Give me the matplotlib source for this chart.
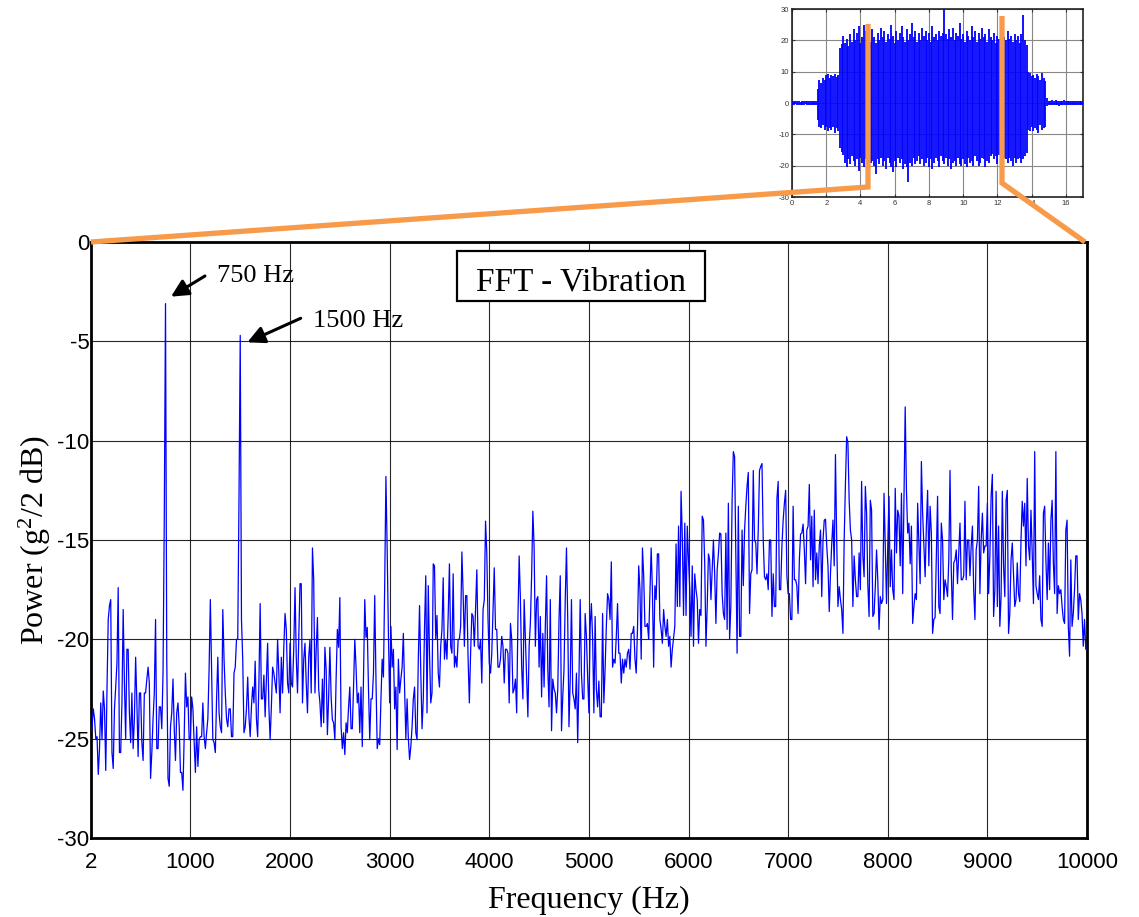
import numpy as np
import matplotlib
matplotlib.use("Agg")
import matplotlib.pyplot as plt
from matplotlib.lines import Line2D
from matplotlib.patches import Rectangle

plt.rcParams['axes.unicode_minus'] = False

# ---------------------------------------------------------------- data
# FFT power spectrum (dB). Resolution 12.5 Hz: `power_db_bins` holds the
# values on the 25 Hz grid (0, 25, ..., 10000 Hz) and `power_db_mid` the
# values halfway between (12.5, 37.5, ..., 9987.5 Hz).
bin_width_hz = 25
power_db_bins = [
    -24.7, -23.5, -25.0, -26.8, -23.2, -22.6, -26.6, -19.0, -18.0, -26.5,
    -22.4, -17.4, -25.7, -18.5, -25.0, -20.5, -25.2, -25.5, -20.9, -25.9,
    -22.7, -26.1, -22.7, -21.4, -27.0, -24.0, -19.0, -25.5, -23.4, -21.7,
    -3.1, -27.0, -24.4, -22.0, -26.1, -23.2, -26.7, -27.6, -21.7, -22.9,
    -25.05, -23.5, -26.7, -26.4, -24.9, -23.2, -25.5, -24.0, -18.0, -25.05,
    -25.7, -20.9, -24.4, -18.5, -22.7, -24.4, -23.5, -24.9, -21.4, -20.0,
    -4.7, -21.0, -24.4, -21.9, -24.9, -22.4, -21.1, -24.9, -18.2, -23.0,
    -23.9, -20.2, -25.05, -21.4, -22.2, -20.0, -23.7, -22.7, -18.7, -22.2,
    -20.2, -22.4, -17.4, -22.7, -17.2, -23.2, -20.2, -23.7, -20.0, -15.4,
    -22.7, -18.9, -23.2, -22.0, -20.4, -24.8, -20.4, -24.05, -25.05, -19.5,
    -17.9, -25.5, -25.8, -24.7, -22.4, -24.5, -20.0, -23.2, -24.7, -25.4,
    -18.0, -19.4, -25.05, -23.0, -17.8, -25.5, -25.3, -21.0, -17.3, -15.5,
    -23.2, -21.4, -23.5, -25.55, -22.7, -21.4, -22.5, -23.0, -26.05, -24.4,
    -22.4, -25.05, -18.3, -24.5, -19.4, -23.7, -20.7, -22.7, -16.3, -18.8,
    -22.4, -19.5, -21.0, -21.0, -16.2, -20.7, -21.4, -21.4, -20.0, -15.6,
    -20.35, -17.8, -23.2, -18.7, -20.35, -16.5, -20.5, -22.2, -18.0, -15.65,
    -21.2, -20.7, -16.4, -19.5, -21.4, -19.85, -22.2, -20.5, -23.2, -20.0,
    -22.5, -23.7, -15.8, -21.4, -18.0, -21.9, -20.35, -16.8, -15.35, -18.0,
    -21.4, -22.9, -22.4, -16.8, -23.4, -24.6, -22.5, -23.7, -19.0, -24.6,
    -21.5, -15.4, -24.4, -18.0, -23.0, -21.7, -22.0, -21.7, -23.0, -19.85,
    -23.7, -18.2, -23.7, -22.5, -22.1, -23.9, -23.2, -19.35, -18.0, -16.1,
    -21.0, -19.85, -20.7, -22.2, -21.7, -21.4, -20.5, -19.7, -19.35, -21.7,
    -16.3, -21.0, -16.8, -19.35, -20.0, -15.4, -21.4, -18.0, -15.7, -19.5,
    -18.5, -19.85, -20.35, -21.4, -19.9, -15.2, -14.3, -12.55, -18.8, -18.8,
    -16.0, -19.85, -20.35, -17.5, -20.2, -18.8, -14.0, -20.35, -15.7, -18.0,
    -15.0, -19.2, -15.7, -14.7, -18.7, -14.65, -13.15, -18.3, -10.55, -15.7,
    -13.3, -19.85, -17.3, -13.3, -11.6, -16.7, -11.5, -15.15, -14.5, -11.3,
    -15.0, -17.0, -17.5, -15.0, -16.7, -18.35, -12.05, -17.5, -14.0, -12.5,
    -17.7, -19.0, -13.3, -17.0, -18.7, -14.7, -14.2, -17.2, -14.3, -16.0,
    -17.35, -17.0, -17.2, -14.5, -15.0, -13.95, -16.3, -16.7, -14.0, -10.7,
    -18.35, -18.0, -19.7, -12.2, -10.1, -14.5, -18.35, -17.0, -17.85, -17.5,
    -15.8, -12.3, -17.25, -13.0, -18.85, -17.35, -17.0, -17.85, -18.0, -15.3,
    -15.3, -17.35, -17.5, -12.4, -13.5, -16.3, -17.7, -8.3, -14.65, -16.2,
    -19.2, -17.7, -13.15, -17.2, -13.65, -16.85, -12.5, -13.3, -19.7, -18.9,
    -12.8, -18.7, -15.0, -17.0, -17.85, -11.5, -19.0, -16.0, -17.2, -14.15,
    -17.0, -13.05, -15.0, -16.8, -14.3, -19.0, -15.0, -17.7, -13.65, -15.3,
    -13.15, -15.8, -11.7, -17.5, -18.35, -19.35, -12.55, -17.85, -12.5, -18.7,
    -15.15, -18.35, -16.15, -18.1, -13.05, -13.15, -11.9, -16.0, -15.65, -10.55,
    -17.7, -16.8, -19.35, -13.3, -18.0, -17.5, -13.0, -17.7, -18.7, -17.7,
    -18.35, -19.2, -14.0, -20.85, -19.35, -17.5, -15.8, -17.7, -18.7, -19.0,
    -20.5,
]
power_db_mid = [
    -24.4, -24.0, -24.9, -25.5, -25.05, -23.5, -22.5, -18.3, -25.7, -23.5,
    -21.2, -25.7, -23.2, -22.2, -20.5, -23.7, -22.7, -24.0, -23.2, -22.7,
    -25.2, -22.7, -22.0, -22.2, -25.7, -22.7, -25.5, -23.4, -24.5, -14.0,
    -21.0, -27.4, -23.7, -24.5, -23.7, -24.4, -26.7, -24.9, -23.4, -25.05,
    -22.9, -25.2, -24.4, -25.05, -24.9, -24.9, -24.7, -21.5, -21.4, -25.2,
    -23.0, -23.7, -24.7, -21.0, -24.0, -23.5, -24.9, -21.7, -20.0, -13.0,
    -19.0, -24.7, -23.5, -23.9, -23.4, -23.2, -24.0, -22.2, -23.0, -21.8,
    -22.0, -23.4, -23.4, -21.7, -22.7, -21.7, -20.9, -20.4, -19.5, -22.7,
    -22.2, -20.4, -20.9, -20.0, -17.2, -21.0, -22.2, -20.9, -22.7, -17.0,
    -20.5, -22.5, -24.4, -24.2, -21.5, -22.9, -22.9, -24.2, -22.0, -20.4,
    -24.4, -24.7, -24.2, -23.4, -24.5, -22.4, -21.4, -22.7, -22.4, -21.9,
    -19.9, -22.5, -23.0, -21.7, -22.0, -25.0, -23.0, -21.9, -11.8, -19.7,
    -19.35, -20.5, -22.4, -21.0, -22.0, -19.7, -25.0, -25.0, -25.4, -23.0,
    -24.7, -21.0, -21.7, -23.0, -16.8, -17.3, -23.2, -16.2, -20.0, -21.7,
    -20.35, -16.9, -20.0, -18.8, -20.35, -16.7, -20.85, -20.0, -19.35, -17.7,
    -17.8, -21.0, -20.7, -18.85, -18.5, -20.35, -20.0, -18.5, -14.05, -19.0,
    -21.7, -18.5, -19.5, -21.4, -21.0, -20.35, -20.5, -20.7, -19.2, -22.7,
    -22.0, -19.0, -18.0, -23.0, -20.0, -23.9, -19.2, -13.55, -20.35, -17.85,
    -18.85, -19.7, -19.35, -21.5, -18.0, -22.0, -22.7, -22.5, -16.8, -22.9,
    -18.0, -19.0, -22.0, -22.7, -23.5, -25.2, -18.0, -23.0, -18.7, -21.9,
    -19.35, -20.0, -18.85, -23.4, -23.9, -18.7, -21.5, -17.7, -19.0, -21.4,
    -21.2, -18.2, -20.7, -21.0, -21.0, -20.7, -21.5, -19.7, -21.0, -19.5,
    -17.5, -15.4, -19.35, -19.2, -17.7, -17.5, -17.3, -15.7, -19.0, -20.2,
    -19.35, -19.0, -19.85, -20.5, -19.35, -18.35, -18.35, -14.8, -14.15, -14.3,
    -17.5, -16.3, -16.7, -18.0, -18.5, -13.8, -16.15, -18.35, -16.0, -16.5,
    -16.7, -16.5, -14.65, -17.7, -19.0, -19.5, -20.0, -13.0, -10.8, -20.7,
    -19.85, -14.5, -14.5, -12.3, -18.7, -16.5, -15.0, -16.7, -11.5, -11.15,
    -16.85, -16.7, -15.0, -18.85, -18.35, -12.9, -17.5, -15.3, -13.15, -16.8,
    -17.7, -19.0, -17.0, -17.3, -16.0, -14.65, -15.5, -14.5, -12.2, -13.8,
    -13.5, -15.65, -15.3, -17.85, -14.0, -15.3, -18.6, -15.2, -16.3, -15.0,
    -17.35, -18.5, -15.0, -9.8, -13.0, -15.0, -15.8, -17.85, -15.65, -12.05,
    -16.85, -13.65, -18.85, -13.5, -18.7, -15.5, -19.5, -18.2, -12.65, -18.2,
    -12.8, -15.5, -18.0, -15.65, -13.8, -12.65, -13.0, -12.5, -14.15, -14.3,
    -18.35, -18.0, -15.15, -11.05, -15.3, -14.3, -16.3, -14.65, -19.0, -15.85,
    -18.35, -14.15, -18.0, -17.35, -16.0, -16.5, -16.15, -15.5, -15.65, -17.0,
    -16.8, -17.0, -15.0, -15.3, -17.5, -15.5, -12.3, -15.0, -15.65, -15.3,
    -17.7, -12.8, -18.85, -12.55, -14.3, -17.85, -16.3, -13.0, -19.7, -16.0,
    -16.8, -18.0, -17.7, -15.0, -14.3, -16.3, -15.3, -13.5, -18.2, -17.3,
    -18.0, -19.0, -13.65, -16.0, -15.15, -14.0, -16.15, -10.55, -17.3, -17.5,
    -19.0, -14.5, -19.35, -16.0, -18.7, -15.8, -19.0, -18.0, -20.35, -20.5,
]

x_ticks = [2, 1000, 2000, 3000, 4000, 5000, 6000, 7000, 8000, 9000, 10000]
x_tick_labels = ['2', '1000', '2000', '3000', '4000', '5000',
                 '6000', '7000', '8000', '9000', '10000']
y_ticks = [-30, -25, -20, -15, -10, -5, 0]
y_tick_labels = ['-30', '-25', '-20', '-15', '-10', '-5', '0']

# labelled harmonics: (frequency in Hz, peak level in dB)
peak_750 = (750, -3.1)
peak_1500 = (1500, -4.7)

# time-domain vibration record (inset), 0.1 s steps from 0 s to 17 s:
# upper and lower excursion within each step (g)
time_step_s = 0.1
signal_upper = [
    0.6, 0.5, 0.7, 0.5, 0.6, 0.4, 0.6, 0.5, 0.7, 0.5, 0.6, 0.5, 0.6, 0.5, 0.6,
    4.5, 7.2, 6.5, 8.0, 7.5, 8.8, 9.3, 8.1, 9.0, 8.5, 9.4, 8.2, 8.9,
    17.5, 18.8, 21.5, 19.0, 20.5, 18.2, 22.0, 19.5, 23.5, 20.0,
    22.5, 24.5, 19.0, 21.0, 25.0, 23.0, 20.5, 22.0, 19.5, 23.5,
    21.0, 19.0, 22.5, 20.0, 24.0, 21.0, 23.0, 19.5, 22.0, 20.5,
    25.0, 21.5, 19.0, 23.0, 20.0, 22.5, 24.5, 21.0, 19.5, 23.5,
    20.0, 22.0, 25.5, 21.0, 23.0, 19.5, 22.5, 20.0, 24.0, 21.5,
    23.0, 20.0, 22.5, 19.5, 24.5, 21.0, 22.0, 20.0, 23.0, 21.5,
    22.5, 30.0, 22.0, 20.5, 23.5, 21.0, 24.0, 20.0, 22.5, 21.5,
    25.5, 20.5, 22.0, 19.5, 23.0, 21.5, 20.0, 24.5, 21.0, 23.0,
    19.5, 22.5, 20.5, 24.0, 21.0, 22.0, 19.5, 23.5, 21.0, 20.0,
    22.5, 19.0, 21.5, 20.5, 22.0, 19.5, 21.0, 20.0, 23.0, 20.5,
    21.5, 19.5, 22.0, 20.0, 21.5, 19.0, 22.0, 28.0, 20.0, 18.5,
    10.0, 9.5, 8.5, 9.0, 8.0, 9.3, 8.5, 7.5, 9.5, 8.0, 7.0,
    1.5, 0.6, 0.5, 0.8, 0.6, 1.0, 0.5, 0.7, 0.6, 0.5, 0.8,
    0.6, 0.5, 0.7, 0.6, 0.5, 0.6, 0.7, 0.5, 0.6, 0.5, 0.6,
]
signal_lower = [
    -0.5, -0.6, -0.4, -0.6, -0.5, -0.7, -0.5, -0.6, -0.4, -0.6, -0.5, -0.6, -0.5, -0.7, -0.5,
    -5.5, -7.5, -8.0, -7.0, -8.5, -7.5, -9.0, -8.0, -8.5, -7.5, -9.5, -8.0, -9.0,
    -14.5, -15.7, -16.5, -19.0, -20.5, -18.0, -19.5, -17.0, -18.5, -20.0,
    -18.0, -21.6, -17.5, -19.0, -20.5, -18.0, -21.5, -17.5, -19.0, -18.5,
    -20.0, -22.7, -18.0, -19.5, -17.5, -20.0, -18.5, -21.0, -17.5, -19.0,
    -20.5, -22.0, -18.5, -20.5, -17.5, -19.0, -18.0, -21.0, -19.5, -20.5,
    -25.3, -19.0, -20.0, -17.5, -19.5, -18.5, -17.0, -19.5, -18.0, -20.0,
    -19.0, -17.5, -20.5, -18.0, -21.0, -19.0, -17.5, -18.5, -20.5, -17.0,
    -18.5, -19.5, -17.5, -20.0, -18.0, -21.0, -19.0, -18.5, -20.0, -17.5,
    -19.5, -20.0, -18.0, -19.5, -20.5, -17.5, -19.0, -18.5, -20.0, -17.0,
    -18.5, -20.0, -19.0, -17.5, -18.0, -20.5, -18.5, -19.0, -17.0, -16.3,
    -18.0, -17.0, -19.5, -16.5, -18.0, -19.0, -17.5, -18.0, -19.0, -17.5,
    -18.5, -20.0, -17.5, -19.0, -18.0, -17.5, -19.0, -18.0, -17.0, -16.0,
    -8.5, -9.0, -7.5, -9.0, -8.0, -8.5, -9.5, -7.0, -8.5, -8.0, -7.5,
    -1.0, -0.6, -0.5, -0.7, -0.5, -0.6, -0.5, -0.8, -0.5, -0.6, -0.5,
    -0.7, -0.5, -0.6, -0.5, -0.6, -0.5, -0.7, -0.5, -0.6, -0.5, -0.6,
]
inset_x_ticks = [0, 2, 4, 6, 8, 10, 12, 14, 16]
inset_y_ticks = [-30, -20, -10, 0, 10, 20, 30]

# ---------------------------------------------------------------- figure
W, H = 1139, 917
fig = plt.figure(figsize=(W / 100, H / 100), dpi=100)
fig.patch.set_facecolor('white')


def fx(px):
    return px / W


def fy(py):
    return 1 - py / H


SANS = 'Liberation Sans'
SERIF = 'Liberation Serif'

# ---- main spectrum axes
ax = fig.add_axes([fx(91), fy(838), fx(1087) - fx(91), fy(242) - fy(838)])
n_bins = len(power_db_bins)
freq = 0.5 * bin_width_hz * np.arange(2 * n_bins - 1)
power = np.empty(2 * n_bins - 1)
power[0::2] = power_db_bins
power[1::2] = power_db_mid
ax.plot(freq, power, color='#0000FF', lw=0.9, zorder=3)

ax.set_xlim(2, 10000)
ax.set_ylim(-30, 0)
ax.set_xticks(x_ticks)
ax.set_xticklabels(x_tick_labels, fontfamily=SANS, fontsize=16)
ax.set_yticks(y_ticks)
ax.set_yticklabels(y_tick_labels, fontfamily=SANS, fontsize=16)
ax.tick_params(axis='x', length=0, pad=10)
ax.tick_params(axis='y', length=0, pad=1)
ax.grid(True, color='black', lw=0.8, alpha=0.85, zorder=1)
ax.set_axisbelow(True)
for side in ax.spines.values():
    side.set_linewidth(2.0)
    side.set_color('black')

ax.set_xlabel('Frequency (Hz)', fontfamily=SERIF, fontsize=23)
ax.xaxis.set_label_coords(0.5, -0.08)
ax.set_ylabel('Power (g$\\mathregular{^2}$/2 dB)', fontfamily=SERIF, fontsize=23)
ax.yaxis.set_label_coords(-0.038, 0.5)

# title box
ax.add_patch(Rectangle((3675, -2.97), 6165 - 3675, 2.52, facecolor='white',
                       edgecolor='black', lw=1.6, zorder=5))
ax.text(4920, -2.02, 'FFT - Vibration', fontfamily=SERIF, fontsize=24,
        ha='center', va='center', zorder=6)

# harmonic annotations
arrow_style = dict(arrowstyle='-|>', color='black', lw=2.2,
                   mutation_scale=26, shrinkA=0, shrinkB=0)
ax.annotate('', xy=(peak_750[0] + 55, peak_750[1] + 0.35), xytext=(1146, -1.71),
            arrowprops=arrow_style, zorder=6)
ax.text(1264, -1.72, f'{peak_750[0]} Hz', fontfamily=SERIF, fontsize=19,
        ha='left', va='center')
ax.annotate('', xy=(peak_1500[0] + 71, peak_1500[1] - 0.35), xytext=(2107, -3.84),
            arrowprops=arrow_style, zorder=6)
ax.text(2228, -4.0, f'{peak_1500[0]} Hz', fontfamily=SERIF, fontsize=19,
        ha='left', va='center')

# ---- inset: time record
ins = fig.add_axes([fx(792), fy(197), fx(1083) - fx(792), fy(9) - fy(197)])
t = time_step_s * np.arange(len(signal_upper))
ins.vlines(t, signal_lower, signal_upper, colors='#0000FF', lw=1.3, zorder=3)
ins.set_xlim(0, 17)
ins.set_ylim(-30, 30)
ins.set_xticks(inset_x_ticks)
ins.set_yticks(inset_y_ticks)
ins.tick_params(labelsize=5.5, colors='#333333', direction='in', length=2,
                top=True, right=True, pad=2)
for lab in ins.get_xticklabels() + ins.get_yticklabels():
    lab.set_fontfamily(SANS)
ins.grid(True, color='#888888', lw=0.8, zorder=1)
ins.set_axisbelow(True)
for side in ins.spines.values():
    side.set_linewidth(1.2)
    side.set_color('#222222')

# ---- zoom connector lines
orange = '#F79A4A'
for xs, ys in (([91, 868, 868], [242, 187, 24]),
               ([1002, 1002, 1085], [16, 183, 242])):
    fig.add_artist(Line2D([fx(v) for v in xs], [fy(v) for v in ys],
                          color=orange, lw=3.8, solid_joinstyle='miter',
                          solid_capstyle='butt', zorder=20))

fig.savefig('out.png', dpi=100, facecolor='white')
